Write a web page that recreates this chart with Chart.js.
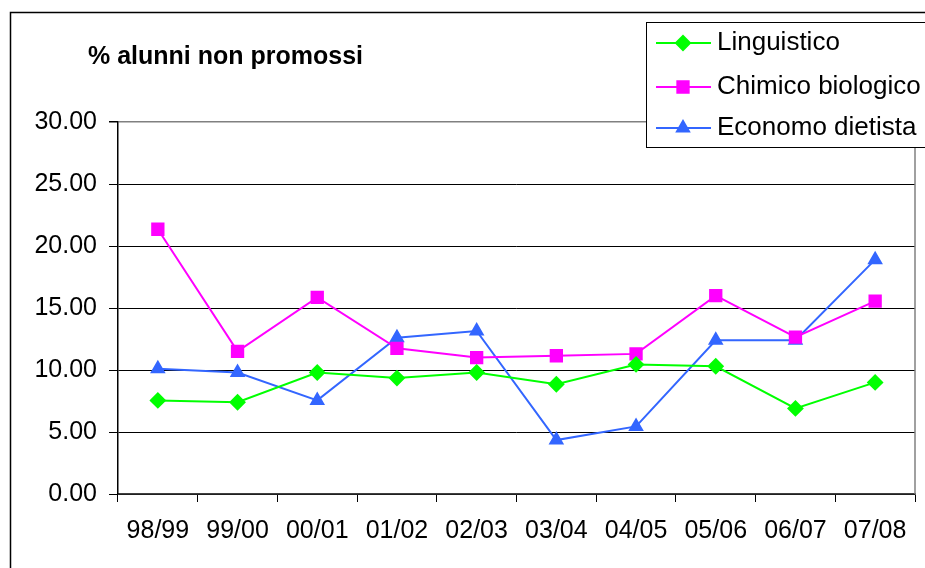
<!DOCTYPE html>
<html>
<head>
<meta charset="utf-8">
<script src="https://cdn.jsdelivr.net/npm/chart.js@4/dist/chart.umd.min.js"></script>
<style>
  html, body { margin: 0; padding: 0; background: #fff; }
  #wrap { width: 925px; height: 568px; }
</style>
</head>
<body>
<div id="wrap"><canvas id="chart" width="925" height="568"></canvas></div>
<script>
// --- Data ---
const years = ["98/99", "99/00", "00/01", "01/02", "02/03", "03/04", "04/05", "05/06", "06/07", "07/08"];
const linguistico = [7.55, 7.4, 9.8, 9.35, 9.8, 8.85, 10.45, 10.3, 6.9, 9.0];
const chimicoBiologico = [21.35, 11.5, 15.85, 11.75, 11.0, 11.15, 11.3, 16.0, 12.65, 15.55];
const economoDietista = [10.1, 9.8, 7.55, 12.6, 13.15, 4.35, 5.45, 12.4, 12.4, 18.9];
const chartTitle = "% alunni non promossi";

Chart.defaults.font.family = "'Liberation Sans', Arial, sans-serif";
Chart.defaults.color = "#000";

// --- Frame, title and boxed legend ---
const decorPlugin = {
  id: "decor",
  afterDraw(chart) {
    const ctx = chart.ctx;
    const area = chart.chartArea;
    ctx.save();

    // outer frame (left and top only visible)
    ctx.strokeStyle = "#000";
    ctx.lineWidth = 1.5;
    ctx.beginPath();
    ctx.moveTo(10.5, 568);
    ctx.lineTo(10.5, 12.5);
    ctx.lineTo(925, 12.5);
    ctx.stroke();

    // right border of plot area
    ctx.strokeStyle = "#808080";
    ctx.lineWidth = 1.5;
    ctx.beginPath();
    ctx.moveTo(area.right, area.top);
    ctx.lineTo(area.right, area.bottom);
    ctx.stroke();

    // title
    ctx.fillStyle = "#000";
    ctx.font = "bold 25px 'Liberation Sans', Arial, sans-serif";
    ctx.textBaseline = "middle";
    ctx.textAlign = "left";
    ctx.fillText(chartTitle, 88, 57);

    // legend box
    ctx.fillStyle = "#fff";
    ctx.fillRect(646, 22.5, 290, 125);
    ctx.strokeStyle = "#000";
    ctx.lineWidth = 1;
    ctx.strokeRect(646.5, 22.5, 290, 125);

    const rows = [43, 87, 128];
    chart.data.datasets.forEach((ds, i) => {
      const y = rows[i];
      ctx.strokeStyle = ds.borderColor;
      ctx.lineWidth = 2;
      ctx.beginPath();
      ctx.moveTo(656, y);
      ctx.lineTo(711, y);
      ctx.stroke();
      ctx.fillStyle = ds.pointBackgroundColor;
      ctx.strokeStyle = ds.pointBorderColor;
      Chart.helpers.drawPoint(ctx, {
        pointStyle: ds.pointStyle,
        radius: ds.pointRadius,
        borderWidth: 1
      }, 683, y);
      ctx.fillStyle = "#000";
      ctx.font = "26px 'Liberation Sans', Arial, sans-serif";
      ctx.textAlign = "left";
      ctx.textBaseline = "middle";
      ctx.fillText(ds.label, 717, y);
    });

    ctx.restore();
  }
};

const ctx = document.getElementById("chart").getContext("2d");

new Chart(ctx, {
  type: "line",
  data: {
    labels: years,
    datasets: [
      {
        label: "Linguistico",
        data: linguistico,
        borderColor: "#00ff00",
        backgroundColor: "#00ff00",
        pointBackgroundColor: "#00ff00",
        pointBorderColor: "#00ff00",
        pointStyle: "rectRot",
        pointRadius: 7,
        borderWidth: 2,
        tension: 0
      },
      {
        label: "Chimico biologico",
        data: chimicoBiologico,
        borderColor: "#ff00ff",
        backgroundColor: "#ff00ff",
        pointBackgroundColor: "#ff00ff",
        pointBorderColor: "#ff00ff",
        pointStyle: "rect",
        pointRadius: 8,
        borderWidth: 2,
        tension: 0
      },
      {
        label: "Economo dietista",
        data: economoDietista,
        borderColor: "#3366ff",
        backgroundColor: "#3366ff",
        pointBackgroundColor: "#3366ff",
        pointBorderColor: "#3366ff",
        pointStyle: "triangle",
        pointRadius: 7,
        borderWidth: 2,
        tension: 0
      }
    ]
  },
  options: {
    responsive: false,
    animation: false,
    layout: { padding: { left: 0, top: 122, right: 5, bottom: 0 } },
    plugins: {
      legend: { display: false },
      title: { display: false },
      tooltip: { enabled: false }
    },
    scales: {
      x: {
        offset: true,
        grid: {
          offset: true,
          drawOnChartArea: false,
          drawTicks: true,
          tickLength: 8,
          tickColor: "#000",
          lineWidth: 1
        },
        border: { display: true, color: "#404040", width: 1.5 },
        ticks: {
          font: { size: 25 },
          color: "#000",
          padding: 14,
          maxRotation: 0,
          autoSkip: false
        },
        afterFit(scale) { scale.height = 74; }
      },
      y: {
        min: 0,
        max: 30,
        grid: {
          color: (c) => (c.tick && c.tick.value === 30 ? "#808080" : "#000"),
          lineWidth: (c) => (c.tick && c.tick.value === 30 ? 1.5 : 1),
          tickColor: "#000",
          tickLength: 9
        },
        border: { display: true, color: "#000", width: 1.5 },
        ticks: {
          stepSize: 5,
          font: { size: 25 },
          color: "#000",
          padding: 12,
          callback: (v) => Number(v).toFixed(2)
        },
        afterFit(scale) { scale.width = 118; }
      }
    }
  },
  plugins: [decorPlugin]
});
</script>
</body>
</html>
